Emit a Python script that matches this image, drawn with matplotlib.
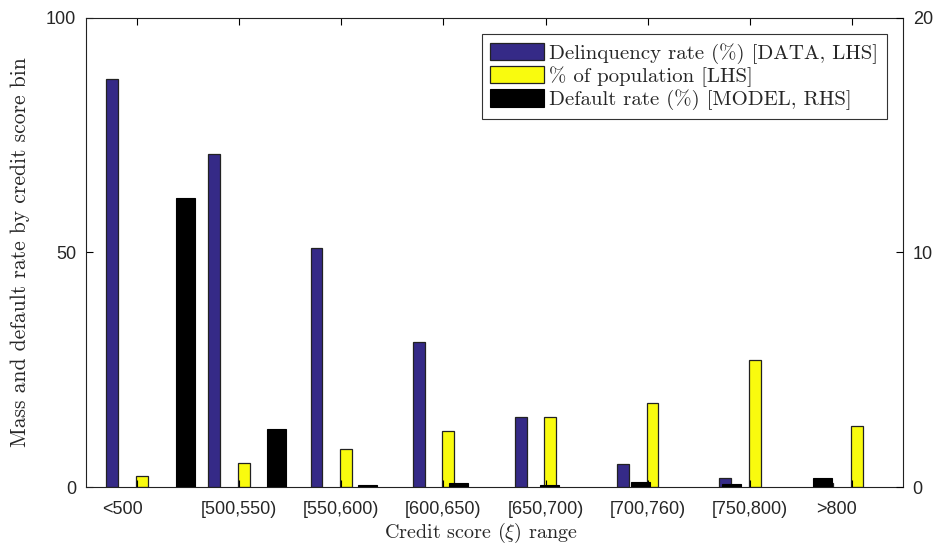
import numpy as np
import matplotlib
matplotlib.use('Agg')
import matplotlib.pyplot as plt
import matplotlib.transforms as mtransforms

plt.rcParams['mathtext.fontset'] = 'cm'
plt.rcParams['axes.unicode_minus'] = False

# Dati
categories = ['<500', '[500,550)', '[550,600)', '[600,650)', '[650,700)',
              '[700,760)', '[750,800)', '>800']
delinquency = [87, 71, 51, 31, 15, 5, 2, 0.9]        # LHS
population = [2.3, 5.2, 8, 12, 15, 18, 27, 13]       # LHS
default_model = [12.33, 2.46, 0.09, 0.15, 0.1, 0.21, 0.14, 0.37]  # RHS

blue = '#352a87'
yellow = '#f9fb0e'
serif = 'cmr10'
sans = 'Liberation Sans'
txt = '#262626'

fig = plt.figure(figsize=(9.37, 5.44), dpi=100)
rect = [86 / 937, 1 - 487 / 544, (903 - 86) / 937, (487 - 18) / 544]
ax = fig.add_axes(rect)

x = np.arange(1, len(categories) + 1)
b1 = ax.bar(x - 0.243, delinquency, width=0.117, color=blue,
            edgecolor='#222222', linewidth=0.9, label='Delinquency rate (%) [DATA, LHS]')
b2 = ax.bar(x + 0.047, population, width=0.117, color=yellow,
            edgecolor='#222222', linewidth=0.9, label='% of population [LHS]')
ax.set_xlim(0.5, 8.5)
ax.set_ylim(0, 100)
ax.set_yticks([0, 50, 100])
ax.set_xticks(x)
ax.set_xticklabels(categories, fontfamily=sans, fontsize=13, color=txt)
for t in ax.get_yticklabels():
    t.set_fontfamily(sans)
    t.set_fontsize(13)
    t.set_color(txt)
ax.tick_params(direction='in', top=True, right=False, length=5, width=0.8, pad=10)
ax.tick_params(axis='y', pad=7)
# le etichette estreme sono spostate a sinistra come nell'originale
for i in (0, len(categories) - 1):
    lab = ax.get_xticklabels()[i]
    lab.set_transform(lab.get_transform() +
                      mtransforms.ScaledTranslation(-0.15, 0, fig.dpi_scale_trans))
ax.set_ylabel('Mass and default rate by credit score bin', fontfamily=serif,
              fontsize=15.5, color=txt)
ax.yaxis.set_label_coords(-0.068, 0.5)
ax.set_xlabel(r'Credit score ($\xi$) range', fontfamily=serif, fontsize=14.5, color=txt)
ax.xaxis.set_label_coords(0.4835, -0.072)
for s in ax.spines.values():
    s.set_linewidth(0.8)
    s.set_color('#222222')

# secondo asse (RHS) con scala x propria
ax2 = fig.add_axes(rect)
ax2.patch.set_visible(False)
b3 = ax2.bar(x, default_model, width=0.21, color='black',
             edgecolor='black', linewidth=0.8, label='Default rate (%) [MODEL, RHS]')
ax2.set_xlim(-0.095, 8.88)
ax2.set_ylim(0, 20)
ax2.set_yticks([0, 10, 20])
ax2.xaxis.set_visible(False)
ax2.yaxis.tick_right()
ax2.tick_params(axis='y', direction='in', length=5, width=0.8, pad=7)
for t in ax2.get_yticklabels():
    t.set_fontfamily(sans)
    t.set_fontsize(13)
    t.set_color(txt)
for s in ax2.spines.values():
    s.set_visible(False)

leg = ax2.legend(handles=[b1, b2, b3], loc='upper right', bbox_to_anchor=(0.980, 0.965),
                 prop={'family': serif, 'size': 15}, handlelength=2.6, handleheight=0.9,
                 handletextpad=0.24, labelspacing=0.12, borderpad=0.4,
                 fancybox=False, framealpha=1, edgecolor='#333333', borderaxespad=0)
leg.get_frame().set_linewidth(0.8)
for t in leg.get_texts():
    t.set_color(txt)

plt.savefig('out.png', dpi=100)
